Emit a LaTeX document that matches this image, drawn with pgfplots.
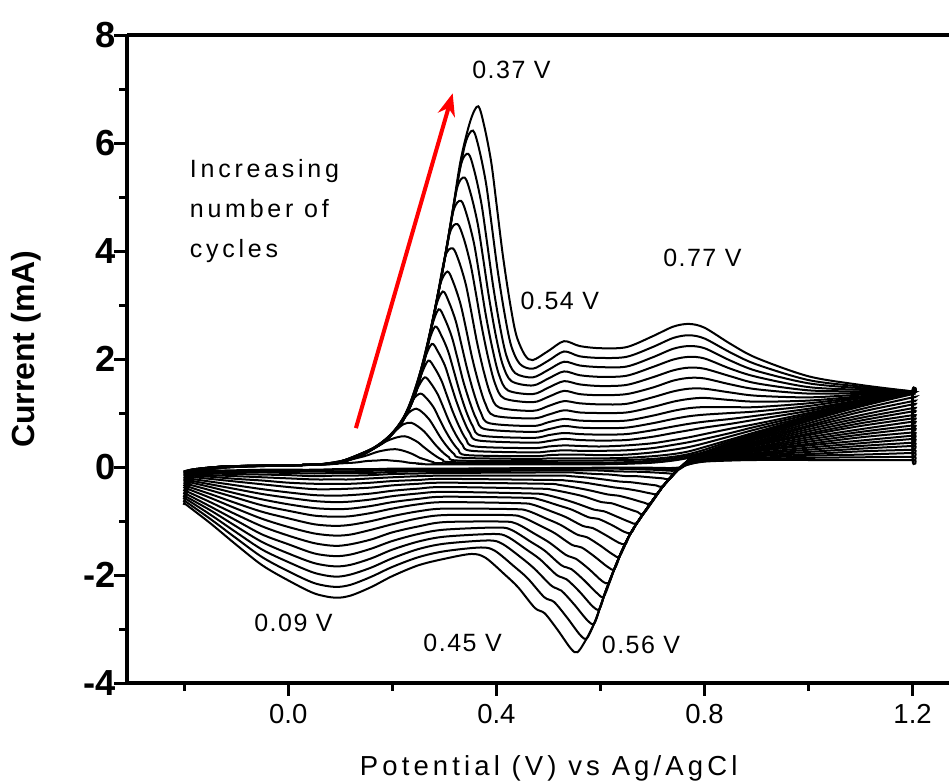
\documentclass[border=0pt]{standalone}
\usepackage{fontspec}
\setmainfont{Liberation Sans}
\newfontfamily\spaced[LetterSpace=15]{Liberation Sans}
\newfontfamily\spacednum[LetterSpace=6]{Liberation Sans}
\usepackage{pgfplots}
\pgfplotsset{compat=1.18}
\usetikzlibrary{arrows.meta}

% one closed loop per cycle: forward scan -0.2 -> 1.2, then reverse back to -0.2
\pgfplotsset{cv/.style={black, line width=0.8pt, smooth, tension=0.5, mark=none}}

\begin{document}
\begin{tikzpicture}
\begin{axis}[
  scale only axis,
  width=328.8pt, height=259.2pt,
  xmin=-0.31, xmax=1.27, ymin=-4, ymax=8,
  axis x line*=box, axis y line*=left,
  xtick={0,0.4,0.8,1.2}, ytick={-4,-2,0,2,4,6,8},
  minor xtick={-0.2,0.2,0.6,1.0}, minor ytick={-3,-1,1,3,5,7},
  xtick pos=left, ytick pos=left,
  tick align=outside,
  major tick length=5pt, minor tick length=3pt,
  tick style={black, line width=1.2pt},
  axis line style={line width=1.6pt},
  /pgf/number format/assume math mode=true,
  xticklabel style={font=\fontsize{11}{13}\selectfont,
    /pgf/number format/fixed, /pgf/number format/fixed zerofill,
    /pgf/number format/precision=1},
  yticklabel style={font=\fontsize{14.5}{16}\selectfont\bfseries, xshift=4pt},
  xlabel={Potential (V) vs Ag/AgCl},
  xlabel style={font=\spaced\fontsize{11}{13}\selectfont,
    at={(axis description cs:0.513,-0.131)}, anchor=center},
  ylabel={Current (mA)},
  ylabel style={font=\fontsize{12.8}{15}\selectfont\bfseries,
    at={(axis description cs:-0.122,0.515)}, anchor=center},
  clip=false,
]
\coordinate (SW) at (rel axis cs:0,0);
\coordinate (NE) at (rel axis cs:1,1);

% cycle 1
\addplot[cv] coordinates {(-0.20,-0.08) (-0.20,-0.08) (-0.18,-0.04) (-0.12,0.01) (0.00,0.03) (0.06,0.05) (0.125,0.08) (0.15,0.11) (0.17,0.12) (0.185,0.13) (0.197,0.12) (0.21,0.11) (0.22,0.10) (0.232,0.08) (0.245,0.07) (0.258,0.06) (0.275,0.05) (0.47,0.05) (0.50,0.05) (0.53,0.05) (0.56,0.05) (0.60,0.05) (0.65,0.06) (0.70,0.08) (0.74,0.12) (0.77,0.17) (0.80,0.25) (0.85,0.42) (0.90,0.58) (1.00,0.88) (1.10,1.15) (1.20,1.38) (1.20,1.38)
 (1.20,1.35) (1.20,1.35) (1.10,1.12) (1.00,0.85) (0.90,0.55) (0.85,0.40) (0.80,0.23) (0.77,0.14) (0.75,-0.01) (0.65,-0.01) (0.30,-0.03) (0.25,-0.03) (0.20,-0.03) (0.16,-0.04) (0.12,-0.04) (0.09,-0.04) (0.05,-0.05) (0.00,-0.05) (-0.05,-0.05) (-0.10,-0.06) (-0.15,-0.07) (-0.20,-0.08)};
% cycle 2
\addplot[cv] coordinates {(-0.20,-0.08) (-0.20,-0.08) (-0.18,-0.04) (-0.12,0.01) (0.00,0.03) (0.06,0.05) (0.106,0.11) (0.146,0.20) (0.171,0.28) (0.191,0.32) (0.206,0.33) (0.218,0.31) (0.231,0.27) (0.241,0.23) (0.253,0.17) (0.266,0.13) (0.279,0.09) (0.296,0.07) (0.47,0.06) (0.50,0.06) (0.53,0.06) (0.56,0.06) (0.60,0.06) (0.65,0.07) (0.70,0.09) (0.74,0.13) (0.77,0.18) (0.80,0.26) (0.85,0.43) (0.90,0.59) (1.00,0.88) (1.10,1.15) (1.20,1.38) (1.20,1.38)
 (1.20,1.29) (1.20,1.29) (1.10,1.07) (1.00,0.81) (0.90,0.53) (0.85,0.39) (0.80,0.22) (0.77,0.14) (0.75,-0.03) (0.65,-0.02) (0.30,-0.04) (0.25,-0.04) (0.20,-0.04) (0.16,-0.05) (0.12,-0.05) (0.09,-0.05) (0.05,-0.06) (0.00,-0.06) (-0.05,-0.06) (-0.10,-0.07) (-0.15,-0.07) (-0.20,-0.08)};
% cycle 3
\addplot[cv] coordinates {(-0.20,-0.09) (-0.20,-0.09) (-0.18,-0.04) (-0.12,0.01) (0.00,0.03) (0.06,0.05) (0.10,0.08) (0.124,0.17) (0.164,0.34) (0.189,0.48) (0.209,0.55) (0.224,0.57) (0.236,0.53) (0.249,0.46) (0.259,0.38) (0.271,0.29) (0.284,0.20) (0.297,0.13) (0.314,0.09) (0.47,0.08) (0.50,0.08) (0.53,0.08) (0.56,0.08) (0.60,0.08) (0.65,0.09) (0.70,0.12) (0.74,0.16) (0.77,0.21) (0.80,0.28) (0.85,0.45) (0.90,0.60) (1.00,0.89) (1.10,1.16) (1.20,1.38) (1.20,1.38)
 (1.20,1.22) (1.20,1.22) (1.10,1.02) (1.00,0.77) (0.90,0.51) (0.85,0.37) (0.80,0.22) (0.77,0.13) (0.748,-0.06) (0.70,-0.05) (0.60,-0.03) (0.30,-0.06) (0.25,-0.06) (0.20,-0.06) (0.16,-0.07) (0.12,-0.08) (0.09,-0.08) (0.05,-0.08) (0.00,-0.08) (-0.05,-0.08) (-0.10,-0.08) (-0.15,-0.08) (-0.20,-0.09)};
% cycle 4
\addplot[cv] coordinates {(-0.20,-0.10) (-0.20,-0.10) (-0.18,-0.04) (-0.12,0.01) (0.00,0.03) (0.06,0.05) (0.096,0.08) (0.136,0.21) (0.176,0.42) (0.201,0.63) (0.221,0.79) (0.236,0.82) (0.248,0.76) (0.261,0.66) (0.271,0.55) (0.283,0.41) (0.296,0.28) (0.309,0.18) (0.326,0.12) (0.47,0.11) (0.50,0.11) (0.53,0.12) (0.56,0.12) (0.60,0.12) (0.65,0.13) (0.70,0.15) (0.74,0.19) (0.77,0.24) (0.80,0.32) (0.85,0.48) (0.90,0.62) (1.00,0.90) (1.10,1.16) (1.20,1.38) (1.20,1.38)
 (1.20,1.16) (1.20,1.16) (1.10,0.96) (1.00,0.74) (0.90,0.48) (0.85,0.36) (0.80,0.21) (0.77,0.13) (0.75,-0.04) (0.742,-0.12) (0.72,-0.11) (0.68,-0.09) (0.63,-0.08) (0.56,-0.06) (0.30,-0.08) (0.25,-0.08) (0.20,-0.09) (0.16,-0.11) (0.12,-0.11) (0.09,-0.11) (0.05,-0.12) (0.00,-0.11) (-0.05,-0.10) (-0.10,-0.10) (-0.15,-0.10) (-0.20,-0.10)};
% cycle 5
\addplot[cv] coordinates {(-0.20,-0.11) (-0.20,-0.11) (-0.18,-0.05) (-0.12,0.01) (0.00,0.03) (0.06,0.05) (0.106,0.12) (0.146,0.25) (0.186,0.49) (0.211,0.74) (0.231,1.00) (0.246,1.08) (0.258,1.01) (0.271,0.88) (0.281,0.73) (0.293,0.54) (0.306,0.37) (0.319,0.24) (0.336,0.17) (0.47,0.15) (0.50,0.16) (0.53,0.16) (0.56,0.16) (0.60,0.16) (0.65,0.17) (0.70,0.20) (0.74,0.24) (0.77,0.29) (0.80,0.37) (0.85,0.51) (0.90,0.65) (1.00,0.92) (1.10,1.17) (1.20,1.38) (1.20,1.38)
 (1.20,1.09) (1.20,1.09) (1.10,0.91) (1.00,0.70) (0.90,0.46) (0.85,0.34) (0.80,0.20) (0.77,0.12) (0.75,-0.04) (0.733,-0.22) (0.72,-0.21) (0.695,-0.19) (0.67,-0.17) (0.651,-0.17) (0.619,-0.14) (0.593,-0.13) (0.556,-0.11) (0.529,-0.10) (0.30,-0.11) (0.25,-0.12) (0.20,-0.13) (0.16,-0.15) (0.12,-0.16) (0.09,-0.16) (0.05,-0.17) (0.00,-0.15) (-0.05,-0.14) (-0.10,-0.13) (-0.15,-0.12) (-0.20,-0.11)};
% cycle 6
\addplot[cv] coordinates {(-0.20,-0.13) (-0.20,-0.13) (-0.18,-0.05) (-0.12,0.01) (0.00,0.03) (0.06,0.05) (0.114,0.14) (0.154,0.30) (0.194,0.56) (0.219,0.86) (0.239,1.24) (0.254,1.36) (0.266,1.27) (0.279,1.11) (0.289,0.92) (0.301,0.69) (0.314,0.48) (0.327,0.32) (0.344,0.22) (0.47,0.20) (0.50,0.22) (0.53,0.23) (0.56,0.23) (0.60,0.22) (0.65,0.23) (0.70,0.27) (0.74,0.32) (0.77,0.37) (0.80,0.44) (0.85,0.57) (0.90,0.70) (1.00,0.94) (1.10,1.18) (1.20,1.38) (1.20,1.38)
 (1.20,1.03) (1.20,1.03) (1.10,0.86) (1.00,0.66) (0.90,0.44) (0.85,0.33) (0.80,0.20) (0.77,0.12) (0.75,-0.04) (0.72,-0.35) (0.707,-0.34) (0.682,-0.31) (0.657,-0.28) (0.638,-0.27) (0.606,-0.23) (0.58,-0.20) (0.543,-0.17) (0.516,-0.16) (0.30,-0.16) (0.25,-0.17) (0.20,-0.19) (0.16,-0.21) (0.12,-0.23) (0.09,-0.23) (0.05,-0.23) (0.00,-0.21) (-0.05,-0.19) (-0.10,-0.17) (-0.15,-0.15) (-0.20,-0.13)};
% cycle 7
\addplot[cv] coordinates {(-0.20,-0.15) (-0.20,-0.15) (-0.18,-0.05) (-0.12,0.01) (0.00,0.03) (0.06,0.05) (0.10,0.08) (0.122,0.17) (0.162,0.34) (0.202,0.64) (0.227,0.98) (0.247,1.43) (0.262,1.66) (0.274,1.55) (0.287,1.35) (0.297,1.13) (0.309,0.85) (0.322,0.60) (0.335,0.41) (0.352,0.30) (0.47,0.27) (0.50,0.29) (0.53,0.31) (0.56,0.30) (0.60,0.30) (0.65,0.31) (0.70,0.35) (0.74,0.41) (0.77,0.46) (0.80,0.52) (0.85,0.63) (0.90,0.75) (1.00,0.97) (1.10,1.19) (1.20,1.38) (1.20,1.38)
 (1.20,0.96) (1.20,0.96) (1.10,0.81) (1.00,0.62) (0.90,0.42) (0.85,0.31) (0.80,0.19) (0.77,0.11) (0.75,-0.04) (0.72,-0.36) (0.71,-0.50) (0.697,-0.49) (0.672,-0.44) (0.647,-0.40) (0.628,-0.38) (0.596,-0.33) (0.57,-0.29) (0.533,-0.25) (0.506,-0.24) (0.30,-0.22) (0.25,-0.24) (0.20,-0.26) (0.16,-0.29) (0.12,-0.31) (0.09,-0.31) (0.05,-0.31) (0.00,-0.29) (-0.05,-0.25) (-0.10,-0.22) (-0.15,-0.18) (-0.20,-0.15)};
% cycle 8
\addplot[cv] coordinates {(-0.20,-0.17) (-0.20,-0.17) (-0.18,-0.06) (-0.12,0.01) (0.00,0.03) (0.06,0.05) (0.10,0.08) (0.129,0.19) (0.169,0.38) (0.209,0.71) (0.234,1.12) (0.254,1.67) (0.269,1.97) (0.281,1.84) (0.294,1.61) (0.304,1.35) (0.316,1.03) (0.329,0.74) (0.342,0.51) (0.359,0.38) (0.47,0.35) (0.50,0.38) (0.53,0.40) (0.56,0.39) (0.60,0.38) (0.65,0.40) (0.70,0.44) (0.74,0.50) (0.77,0.55) (0.80,0.61) (0.85,0.71) (0.90,0.80) (1.00,1.00) (1.10,1.21) (1.20,1.38) (1.20,1.38)
 (1.20,0.90) (1.20,0.90) (1.10,0.76) (1.00,0.59) (0.90,0.40) (0.85,0.30) (0.80,0.18) (0.77,0.11) (0.75,-0.04) (0.72,-0.36) (0.697,-0.67) (0.684,-0.66) (0.659,-0.59) (0.634,-0.53) (0.615,-0.51) (0.583,-0.44) (0.557,-0.39) (0.52,-0.33) (0.493,-0.31) (0.30,-0.29) (0.25,-0.31) (0.20,-0.34) (0.16,-0.38) (0.12,-0.40) (0.09,-0.41) (0.05,-0.41) (0.00,-0.37) (-0.05,-0.32) (-0.10,-0.27) (-0.15,-0.22) (-0.20,-0.17)};
% cycle 9
\addplot[cv] coordinates {(-0.20,-0.20) (-0.20,-0.20) (-0.18,-0.06) (-0.12,0.01) (0.00,0.03) (0.06,0.05) (0.10,0.08) (0.136,0.21) (0.176,0.42) (0.216,0.81) (0.241,1.28) (0.261,1.97) (0.276,2.28) (0.288,2.13) (0.301,1.88) (0.311,1.58) (0.323,1.22) (0.336,0.89) (0.349,0.63) (0.366,0.49) (0.47,0.45) (0.50,0.48) (0.53,0.52) (0.56,0.50) (0.60,0.49) (0.65,0.50) (0.70,0.56) (0.74,0.63) (0.77,0.68) (0.80,0.73) (0.85,0.80) (0.90,0.88) (1.00,1.04) (1.10,1.23) (1.20,1.38) (1.20,1.38)
 (1.20,0.84) (1.20,0.84) (1.10,0.70) (1.00,0.55) (0.90,0.37) (0.85,0.28) (0.80,0.18) (0.77,0.10) (0.75,-0.04) (0.72,-0.36) (0.684,-0.85) (0.671,-0.83) (0.646,-0.75) (0.621,-0.67) (0.602,-0.65) (0.57,-0.55) (0.544,-0.49) (0.507,-0.42) (0.48,-0.40) (0.30,-0.37) (0.25,-0.40) (0.20,-0.44) (0.16,-0.49) (0.12,-0.52) (0.09,-0.53) (0.05,-0.52) (0.00,-0.47) (-0.05,-0.41) (-0.10,-0.34) (-0.15,-0.27) (-0.20,-0.20)};
% cycle 10
\addplot[cv] coordinates {(-0.20,-0.23) (-0.20,-0.23) (-0.18,-0.07) (-0.12,0.01) (0.00,0.03) (0.06,0.05) (0.10,0.08) (0.142,0.23) (0.182,0.46) (0.222,0.90) (0.247,1.43) (0.267,2.22) (0.282,2.60) (0.294,2.44) (0.307,2.15) (0.317,1.82) (0.329,1.41) (0.342,1.03) (0.355,0.75) (0.372,0.58) (0.47,0.54) (0.50,0.59) (0.53,0.63) (0.56,0.61) (0.60,0.60) (0.65,0.61) (0.70,0.68) (0.74,0.75) (0.77,0.80) (0.80,0.84) (0.85,0.89) (0.90,0.95) (1.00,1.08) (1.10,1.24) (1.20,1.38) (1.20,1.38)
 (1.20,0.77) (1.20,0.77) (1.10,0.65) (1.00,0.51) (0.90,0.35) (0.85,0.27) (0.80,0.17) (0.77,0.10) (0.75,-0.04) (0.72,-0.36) (0.69,-0.76) (0.67,-1.04) (0.657,-1.02) (0.632,-0.92) (0.607,-0.82) (0.588,-0.79) (0.556,-0.68) (0.53,-0.60) (0.493,-0.51) (0.466,-0.49) (0.30,-0.46) (0.25,-0.49) (0.20,-0.54) (0.16,-0.60) (0.12,-0.64) (0.09,-0.65) (0.05,-0.63) (0.00,-0.57) (-0.05,-0.50) (-0.10,-0.41) (-0.15,-0.32) (-0.20,-0.23)};
% cycle 11
\addplot[cv] coordinates {(-0.20,-0.26) (-0.20,-0.26) (-0.18,-0.07) (-0.12,0.01) (0.00,0.03) (0.06,0.05) (0.10,0.08) (0.149,0.27) (0.189,0.51) (0.229,1.00) (0.254,1.67) (0.274,2.54) (0.289,2.92) (0.301,2.74) (0.314,2.42) (0.324,2.06) (0.336,1.60) (0.349,1.20) (0.362,0.88) (0.379,0.70) (0.47,0.65) (0.50,0.70) (0.53,0.76) (0.56,0.73) (0.60,0.72) (0.65,0.73) (0.70,0.81) (0.74,0.89) (0.77,0.94) (0.80,0.97) (0.85,1.00) (0.90,1.03) (1.00,1.13) (1.10,1.27) (1.20,1.39) (1.20,1.39)
 (1.20,0.71) (1.20,0.71) (1.10,0.60) (1.00,0.47) (0.90,0.33) (0.85,0.25) (0.80,0.16) (0.77,0.09) (0.75,-0.04) (0.72,-0.36) (0.69,-0.76) (0.67,-1.04) (0.659,-1.22) (0.646,-1.20) (0.621,-1.07) (0.596,-0.96) (0.577,-0.93) (0.545,-0.79) (0.519,-0.71) (0.482,-0.60) (0.455,-0.57) (0.30,-0.55) (0.25,-0.59) (0.20,-0.65) (0.16,-0.72) (0.12,-0.77) (0.09,-0.78) (0.05,-0.76) (0.00,-0.69) (-0.05,-0.60) (-0.10,-0.49) (-0.15,-0.37) (-0.20,-0.26)};
% cycle 12
\addplot[cv] coordinates {(-0.20,-0.30) (-0.20,-0.30) (-0.18,-0.08) (-0.12,0.01) (0.00,0.03) (0.06,0.05) (0.10,0.08) (0.157,0.31) (0.197,0.59) (0.237,1.19) (0.262,2.01) (0.282,2.92) (0.297,3.25) (0.309,3.05) (0.322,2.70) (0.332,2.30) (0.344,1.81) (0.357,1.36) (0.37,1.01) (0.387,0.81) (0.47,0.76) (0.50,0.83) (0.53,0.89) (0.56,0.86) (0.60,0.85) (0.65,0.86) (0.70,0.95) (0.74,1.04) (0.77,1.09) (0.80,1.11) (0.85,1.11) (0.90,1.11) (1.00,1.18) (1.10,1.29) (1.20,1.39) (1.20,1.39)
 (1.20,0.64) (1.20,0.64) (1.10,0.55) (1.00,0.43) (0.90,0.31) (0.85,0.24) (0.80,0.16) (0.77,0.09) (0.75,-0.04) (0.72,-0.36) (0.69,-0.76) (0.67,-1.04) (0.655,-1.28) (0.648,-1.43) (0.635,-1.40) (0.61,-1.26) (0.585,-1.13) (0.566,-1.09) (0.534,-0.93) (0.508,-0.83) (0.471,-0.70) (0.444,-0.67) (0.30,-0.65) (0.25,-0.69) (0.20,-0.77) (0.16,-0.85) (0.12,-0.91) (0.09,-0.92) (0.05,-0.90) (0.00,-0.81) (-0.05,-0.71) (-0.10,-0.57) (-0.15,-0.43) (-0.20,-0.30)};
% cycle 13
\addplot[cv] coordinates {(-0.20,-0.34) (-0.20,-0.34) (-0.18,-0.08) (-0.12,0.01) (0.00,0.03) (0.06,0.05) (0.10,0.08) (0.166,0.36) (0.206,0.68) (0.246,1.40) (0.271,2.40) (0.291,3.35) (0.306,3.62) (0.318,3.40) (0.331,3.02) (0.341,2.59) (0.353,2.04) (0.366,1.55) (0.379,1.17) (0.396,0.95) (0.47,0.90) (0.50,0.97) (0.53,1.05) (0.56,1.01) (0.60,1.00) (0.65,1.01) (0.70,1.11) (0.74,1.21) (0.77,1.26) (0.80,1.28) (0.85,1.24) (0.90,1.21) (1.00,1.23) (1.10,1.31) (1.20,1.39) (1.20,1.39)
 (1.20,0.58) (1.20,0.58) (1.10,0.49) (1.00,0.40) (0.90,0.29) (0.85,0.22) (0.80,0.15) (0.77,0.08) (0.75,-0.04) (0.72,-0.36) (0.69,-0.76) (0.67,-1.04) (0.655,-1.28) (0.637,-1.65) (0.624,-1.62) (0.599,-1.45) (0.574,-1.30) (0.555,-1.25) (0.523,-1.07) (0.497,-0.96) (0.46,-0.81) (0.433,-0.78) (0.30,-0.77) (0.25,-0.82) (0.20,-0.91) (0.16,-1.00) (0.12,-1.07) (0.09,-1.09) (0.05,-1.06) (0.00,-0.95) (-0.05,-0.83) (-0.10,-0.67) (-0.15,-0.50) (-0.20,-0.34)};
% cycle 14
\addplot[cv] coordinates {(-0.20,-0.38) (-0.20,-0.38) (-0.18,-0.09) (-0.12,0.00) (0.00,0.03) (0.06,0.05) (0.10,0.09) (0.14,0.21) (0.176,0.42) (0.216,0.81) (0.256,1.76) (0.281,2.87) (0.301,3.88) (0.316,4.05) (0.328,3.81) (0.341,3.39) (0.351,2.91) (0.363,2.30) (0.376,1.76) (0.389,1.34) (0.406,1.10) (0.47,1.04) (0.50,1.13) (0.53,1.22) (0.56,1.18) (0.60,1.16) (0.65,1.17) (0.70,1.29) (0.74,1.40) (0.77,1.45) (0.80,1.45) (0.85,1.38) (0.90,1.32) (1.00,1.29) (1.10,1.34) (1.20,1.39) (1.20,1.39)
 (1.20,0.52) (1.20,0.52) (1.10,0.44) (1.00,0.36) (0.90,0.26) (0.85,0.21) (0.80,0.14) (0.77,0.08) (0.75,-0.04) (0.72,-0.36) (0.69,-0.76) (0.67,-1.04) (0.655,-1.28) (0.64,-1.58) (0.627,-1.89) (0.614,-1.85) (0.589,-1.66) (0.564,-1.49) (0.545,-1.44) (0.513,-1.23) (0.487,-1.10) (0.45,-0.93) (0.423,-0.89) (0.30,-0.89) (0.25,-0.95) (0.20,-1.06) (0.16,-1.16) (0.12,-1.25) (0.09,-1.27) (0.05,-1.23) (0.00,-1.11) (-0.05,-0.96) (-0.10,-0.77) (-0.15,-0.57) (-0.20,-0.38)};
% cycle 15
\addplot[cv] coordinates {(-0.20,-0.43) (-0.20,-0.43) (-0.18,-0.10) (-0.12,0.00) (0.00,0.03) (0.06,0.05) (0.10,0.09) (0.14,0.21) (0.185,0.49) (0.225,0.95) (0.265,2.14) (0.29,3.30) (0.31,4.32) (0.325,4.50) (0.337,4.24) (0.35,3.77) (0.36,3.25) (0.372,2.59) (0.385,1.99) (0.398,1.53) (0.415,1.27) (0.47,1.20) (0.50,1.30) (0.53,1.41) (0.56,1.35) (0.60,1.33) (0.65,1.35) (0.70,1.47) (0.74,1.60) (0.77,1.65) (0.80,1.64) (0.85,1.53) (0.90,1.44) (1.00,1.36) (1.10,1.37) (1.20,1.39) (1.20,1.39)
 (1.20,0.45) (1.20,0.45) (1.10,0.39) (1.00,0.32) (0.90,0.24) (0.85,0.19) (0.80,0.13) (0.77,0.07) (0.75,-0.04) (0.72,-0.36) (0.69,-0.76) (0.67,-1.04) (0.655,-1.28) (0.64,-1.58) (0.625,-1.93) (0.616,-2.15) (0.603,-2.11) (0.578,-1.89) (0.553,-1.70) (0.534,-1.63) (0.502,-1.40) (0.476,-1.25) (0.439,-1.05) (0.412,-1.01) (0.30,-1.02) (0.25,-1.10) (0.20,-1.21) (0.16,-1.34) (0.12,-1.43) (0.09,-1.46) (0.05,-1.41) (0.00,-1.27) (-0.05,-1.10) (-0.10,-0.88) (-0.15,-0.65) (-0.20,-0.43)};
% cycle 16
\addplot[cv] coordinates {(-0.20,-0.48) (-0.20,-0.48) (-0.18,-0.11) (-0.12,0.00) (0.00,0.03) (0.06,0.05) (0.10,0.09) (0.17,0.38) (0.192,0.54) (0.232,1.07) (0.272,2.45) (0.297,3.67) (0.317,4.73) (0.332,4.93) (0.344,4.64) (0.357,4.14) (0.367,3.57) (0.379,2.85) (0.392,2.21) (0.405,1.71) (0.422,1.42) (0.47,1.35) (0.50,1.47) (0.53,1.59) (0.56,1.53) (0.60,1.50) (0.65,1.52) (0.70,1.66) (0.74,1.79) (0.77,1.84) (0.80,1.82) (0.85,1.68) (0.90,1.55) (1.00,1.42) (1.10,1.40) (1.20,1.39) (1.20,1.39)
 (1.20,0.39) (1.20,0.39) (1.10,0.34) (1.00,0.28) (0.90,0.22) (0.85,0.18) (0.80,0.13) (0.77,0.07) (0.75,-0.04) (0.72,-0.36) (0.69,-0.76) (0.67,-1.04) (0.655,-1.28) (0.64,-1.58) (0.625,-1.93) (0.607,-2.39) (0.594,-2.34) (0.569,-2.10) (0.544,-1.89) (0.525,-1.82) (0.493,-1.55) (0.467,-1.39) (0.43,-1.17) (0.403,-1.12) (0.30,-1.16) (0.25,-1.24) (0.20,-1.37) (0.16,-1.51) (0.12,-1.62) (0.09,-1.65) (0.05,-1.60) (0.00,-1.43) (-0.05,-1.25) (-0.10,-0.99) (-0.15,-0.73) (-0.20,-0.48)};
% cycle 17
\addplot[cv] coordinates {(-0.20,-0.53) (-0.20,-0.53) (-0.18,-0.12) (-0.12,0.00) (0.00,0.03) (0.06,0.05) (0.10,0.09) (0.17,0.38) (0.199,0.61) (0.239,1.24) (0.279,2.78) (0.304,4.04) (0.324,5.15) (0.339,5.36) (0.351,5.05) (0.364,4.51) (0.374,3.90) (0.386,3.13) (0.399,2.43) (0.412,1.90) (0.429,1.59) (0.47,1.51) (0.50,1.64) (0.53,1.77) (0.56,1.70) (0.60,1.67) (0.65,1.69) (0.70,1.85) (0.74,1.99) (0.77,2.04) (0.80,2.01) (0.85,1.82) (0.90,1.67) (1.00,1.48) (1.10,1.43) (1.20,1.39) (1.20,1.39)
 (1.20,0.32) (1.20,0.32) (1.10,0.29) (1.00,0.24) (0.90,0.20) (0.85,0.16) (0.80,0.12) (0.77,0.06) (0.75,-0.04) (0.72,-0.36) (0.69,-0.76) (0.67,-1.04) (0.655,-1.28) (0.64,-1.58) (0.625,-1.93) (0.61,-2.30) (0.598,-2.63) (0.585,-2.58) (0.56,-2.31) (0.535,-2.08) (0.516,-2.00) (0.484,-1.71) (0.458,-1.53) (0.421,-1.29) (0.394,-1.24) (0.30,-1.29) (0.25,-1.38) (0.20,-1.53) (0.16,-1.69) (0.12,-1.81) (0.09,-1.84) (0.05,-1.78) (0.00,-1.60) (-0.05,-1.39) (-0.10,-1.10) (-0.15,-0.80) (-0.20,-0.53)};
% cycle 18
\addplot[cv] coordinates {(-0.20,-0.57) (-0.20,-0.57) (-0.18,-0.12) (-0.12,-0.01) (0.00,0.03) (0.06,0.05) (0.10,0.10) (0.17,0.38) (0.206,0.68) (0.246,1.40) (0.286,3.11) (0.311,4.41) (0.331,5.57) (0.346,5.80) (0.358,5.47) (0.371,4.89) (0.381,4.23) (0.393,3.40) (0.406,2.65) (0.419,2.07) (0.436,1.74) (0.47,1.66) (0.50,1.80) (0.53,1.95) (0.56,1.88) (0.60,1.85) (0.65,1.86) (0.70,2.03) (0.74,2.19) (0.77,2.24) (0.80,2.20) (0.85,1.97) (0.90,1.78) (1.00,1.55) (1.10,1.46) (1.20,1.40) (1.20,1.40)
 (1.20,0.26) (1.20,0.26) (1.10,0.23) (1.00,0.21) (0.90,0.17) (0.85,0.15) (0.80,0.11) (0.77,0.06) (0.75,-0.04) (0.72,-0.36) (0.69,-0.76) (0.67,-1.04) (0.655,-1.28) (0.64,-1.58) (0.625,-1.93) (0.61,-2.30) (0.60,-2.58) (0.588,-2.90) (0.575,-2.84) (0.550,-2.55) (0.525,-2.29) (0.506,-2.20) (0.474,-1.89) (0.448,-1.68) (0.411,-1.42) (0.384,-1.36) (0.30,-1.42) (0.25,-1.52) (0.20,-1.69) (0.16,-1.86) (0.12,-1.99) (0.09,-2.03) (0.05,-1.96) (0.00,-1.76) (-0.05,-1.53) (-0.10,-1.21) (-0.15,-0.88) (-0.20,-0.57)};
% cycle 19
\addplot[cv] coordinates {(-0.20,-0.62) (-0.20,-0.62) (-0.18,-0.13) (-0.12,-0.01) (0.00,0.03) (0.06,0.05) (0.10,0.10) (0.17,0.38) (0.215,0.80) (0.255,1.71) (0.295,3.56) (0.32,4.98) (0.34,5.98) (0.355,6.23) (0.367,5.88) (0.38,5.26) (0.39,4.55) (0.402,3.67) (0.415,2.88) (0.428,2.26) (0.445,1.91) (0.47,1.82) (0.50,1.97) (0.53,2.14) (0.56,2.05) (0.60,2.02) (0.65,2.04) (0.70,2.22) (0.74,2.39) (0.77,2.44) (0.80,2.38) (0.85,2.12) (0.90,1.90) (1.00,1.61) (1.10,1.49) (1.20,1.40) (1.20,1.40)
 (1.20,0.19) (1.20,0.19) (1.10,0.18) (1.00,0.17) (0.90,0.15) (0.85,0.13) (0.80,0.11) (0.77,0.05) (0.75,-0.04) (0.72,-0.36) (0.69,-0.76) (0.67,-1.04) (0.655,-1.28) (0.64,-1.58) (0.625,-1.93) (0.61,-2.30) (0.60,-2.58) (0.59,-2.85) (0.574,-3.17) (0.561,-3.11) (0.536,-2.79) (0.511,-2.50) (0.492,-2.41) (0.46,-2.06) (0.434,-1.84) (0.397,-1.55) (0.37,-1.49) (0.30,-1.56) (0.25,-1.67) (0.20,-1.85) (0.16,-2.03) (0.12,-2.18) (0.09,-2.22) (0.05,-2.15) (0.00,-1.93) (-0.05,-1.67) (-0.10,-1.32) (-0.15,-0.96) (-0.20,-0.62)};
% cycle 20
\addplot[cv] coordinates {(-0.20,-0.67) (-0.20,-0.67) (-0.18,-0.14) (-0.12,-0.01) (0.00,0.03) (0.06,0.05) (0.10,0.10) (0.17,0.38) (0.20,0.62) (0.225,0.94) (0.265,2.14) (0.305,4.07) (0.33,5.61) (0.35,6.41) (0.365,6.68) (0.377,6.30) (0.39,5.65) (0.40,4.89) (0.412,3.95) (0.425,3.11) (0.438,2.45) (0.455,2.07) (0.47,1.98) (0.50,2.15) (0.53,2.33) (0.56,2.24) (0.60,2.20) (0.65,2.22) (0.70,2.42) (0.74,2.60) (0.77,2.65) (0.80,2.58) (0.85,2.28) (0.90,2.02) (1.00,1.68) (1.10,1.52) (1.20,1.40) (1.20,1.40)
 (1.20,0.13) (1.20,0.13) (1.10,0.13) (1.00,0.13) (0.90,0.13) (0.85,0.12) (0.80,0.10) (0.77,0.05) (0.75,-0.04) (0.72,-0.36) (0.69,-0.76) (0.67,-1.04) (0.655,-1.28) (0.64,-1.58) (0.625,-1.93) (0.61,-2.30) (0.60,-2.58) (0.59,-2.85) (0.575,-3.15) (0.556,-3.43) (0.543,-3.36) (0.518,-3.02) (0.493,-2.71) (0.474,-2.61) (0.442,-2.23) (0.416,-1.99) (0.379,-1.68) (0.352,-1.61) (0.30,-1.70) (0.25,-1.82) (0.20,-2.02) (0.16,-2.22) (0.12,-2.38) (0.09,-2.42) (0.05,-2.34) (0.00,-2.10) (-0.05,-1.82) (-0.10,-1.44) (-0.15,-1.04) (-0.20,-0.67)};

% annotations
\draw[red, line width=1.6pt, -{Stealth[length=9pt,width=7pt]}]
  (axis cs:0.130,0.72) -- (axis cs:0.316,6.92);
\node[font=\spaced\fontsize{10}{16}\selectfont, align=left, anchor=north west, inner sep=0pt]
  at (axis cs:-0.19,5.71) {Increasing\\number of\\cycles};
\begin{scope}[every node/.style={font=\spacednum\fontsize{10}{12}\selectfont, inner sep=0pt}]
\node at (axis cs:0.429,7.35) {0.37 V};
\node at (axis cs:0.522,3.08) {0.54 V};
\node at (axis cs:0.796,3.88) {0.77 V};
\node at (axis cs:0.010,-2.89) {0.09 V};
\node at (axis cs:0.335,-3.25) {0.45 V};
\node at (axis cs:0.678,-3.30) {0.56 V};
\end{scope}
\end{axis}
\pgfresetboundingbox
\path[use as bounding box] ([xshift=-50.8pt,yshift=-39.6pt]SW) rectangle ([yshift=14pt]NE);
\end{tikzpicture}
\end{document}
